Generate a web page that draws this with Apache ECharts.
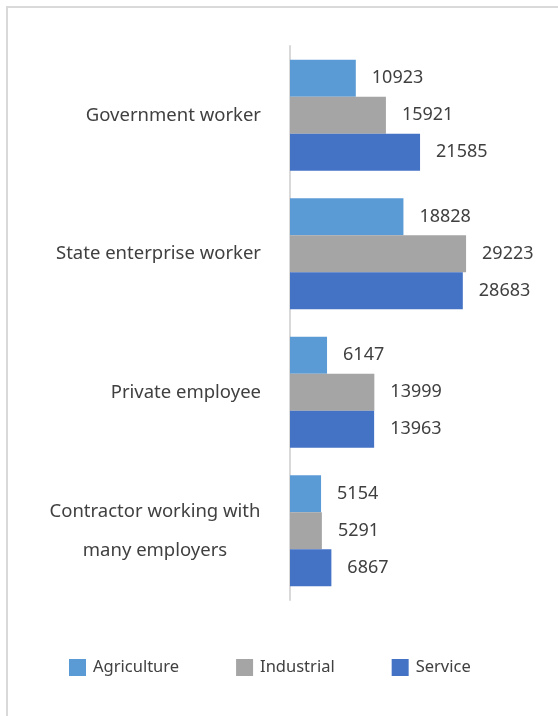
<!DOCTYPE html>
<html><head><meta charset="utf-8">
<script src="https://cdn.jsdelivr.net/npm/echarts@6/dist/echarts.min.js"></script>
<style>html,body{margin:0;padding:0;background:#fff}#c{width:558px;height:716px}</style>
</head><body><div id="c"></div>
<script>
const categories = ['Government worker', 'State enterprise worker', 'Private employee', 'Contractor working with many employers'];
const agriculture = [10923, 18828, 6147, 5154];
const industrial = [15921, 29223, 13999, 5291];
const service = [21585, 28683, 13963, 6867];
const seriesNames = ['Agriculture', 'Industrial', 'Service'];
const colors = ['#5B9BD5', '#A5A5A5', '#4472C4'];
const FONT = 'Noto Sans';
const TXT = '#404040';

const chart = echarts.init(document.getElementById('c'), null, {renderer: 'canvas'});
function mk(name, data, color) {
  return {
    name, type: 'bar', data, barGap: '0%', barCategoryGap: '20%',
    itemStyle: {color},
    label: {show: true, position: 'right', distance: 16, color: TXT, fontFamily: FONT, fontSize: 18}
  };
}
chart.setOption({
  animation: false,
  graphic: [{type: 'rect', shape: {x: 7, y: 7, width: 700, height: 900}, style: {fill: 'none', stroke: '#d9d9d9', lineWidth: 2}, silent: true}],
  grid: {left: 290, top: 46, bottom: 116, right: 27, containLabel: false},
  xAxis: {type: 'value', min: 0, max: 40000, show: false},
  yAxis: {
    type: 'category', data: categories, inverse: true,
    axisLine: {show: true, lineStyle: {color: '#d9d9d9', width: 2}},
    axisTick: {show: false},
    axisLabel: {
      margin: 29, color: TXT, fontFamily: FONT, fontSize: 18.5,
      formatter: function (v) {
        if (v.indexOf('Contractor') === 0) return '{c|Contractor working with}\n{c|many employers}';
        return v;
      },
      rich: {c: {width: 212, align: 'center', lineHeight: 39, fontFamily: FONT, fontSize: 18.5, color: TXT}}
    }
  },
  legend: {
    bottom: 35, left: 64, itemWidth: 17, itemHeight: 17, itemGap: 57,
    icon: 'rect',
    textStyle: {color: TXT, fontFamily: FONT, fontSize: 16.5, padding: [0, 0, 0, 2]}
  },
  series: [mk(seriesNames[0], agriculture, colors[0]), mk(seriesNames[1], industrial, colors[1]), mk(seriesNames[2], service, colors[2])]
});
</script></body></html>
